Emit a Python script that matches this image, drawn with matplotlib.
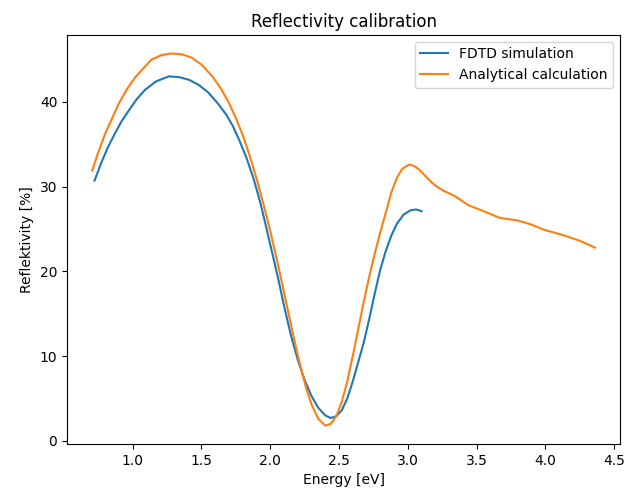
import matplotlib

matplotlib.use("Agg")
import matplotlib.pyplot as plt

# FDTD simulation
fdtd_e = [0.724, 0.77, 0.82, 0.87, 0.92, 0.97, 1.03, 1.09, 1.17, 1.264,
          1.34, 1.41, 1.48, 1.55, 1.62, 1.68, 1.73, 1.78, 1.83, 1.88,
          1.93, 1.98, 2.02, 2.06, 2.10, 2.15, 2.20, 2.25, 2.30, 2.35,
          2.40, 2.44, 2.48, 2.52, 2.56, 2.60, 2.64, 2.68, 2.72, 2.76,
          2.80, 2.84, 2.88, 2.92, 2.97, 3.02, 3.06, 3.10]
fdtd_r = [30.7, 32.7, 34.6, 36.2, 37.7, 38.9, 40.3, 41.4, 42.4, 43.0,
          42.9, 42.6, 42.0, 41.1, 39.8, 38.5, 37.1, 35.3, 33.3, 30.9,
          28.0, 24.6, 21.8, 19.0, 16.0, 12.5, 9.6, 7.2, 5.3, 3.9,
          3.0, 2.7, 2.9, 3.6, 5.0, 7.0, 9.3, 11.6, 14.4, 17.4,
          20.2, 22.4, 24.2, 25.6, 26.7, 27.2, 27.3, 27.1]

# Analytical calculation
ana_e = [0.707, 0.75, 0.80, 0.864, 0.90, 0.96, 1.02, 1.07, 1.14, 1.21,
         1.28, 1.36, 1.43, 1.50, 1.58, 1.64, 1.70, 1.75, 1.80, 1.85,
         1.90, 1.95, 2.00, 2.07, 2.11, 2.15, 2.185, 2.22, 2.26, 2.30,
         2.35, 2.40, 2.44, 2.48, 2.52, 2.56, 2.60, 2.64, 2.68, 2.72,
         2.76, 2.80, 2.84, 2.88, 2.92, 2.96, 3.01, 3.05, 3.09, 3.13,
         3.18, 3.22, 3.26, 3.34, 3.44, 3.55, 3.67, 3.80, 3.90, 3.99,
         4.08, 4.16, 4.25, 4.36]
ana_r = [31.9, 34.0, 36.2, 38.5, 39.8, 41.5, 42.9, 43.8, 45.0, 45.5,
         45.7, 45.6, 45.2, 44.4, 43.0, 41.6, 39.9, 38.1, 36.1, 33.7,
         31.0, 28.0, 24.8, 19.8, 16.8, 13.8, 11.2, 8.8, 6.3, 4.3,
         2.6, 1.8, 2.0, 2.9, 4.6, 7.0, 10.0, 13.2, 16.4, 19.4,
         22.1, 24.6, 26.9, 29.3, 31.0, 32.1, 32.6, 32.4, 31.9, 31.2,
         30.4, 29.9, 29.5, 28.9, 27.8, 27.1, 26.3, 26.0, 25.5, 24.9,
         24.5, 24.1, 23.6, 22.8]

fig, ax = plt.subplots(figsize=(6.27, 4.98), dpi=100)
fig.subplots_adjust(left=0.107, right=0.989, top=0.930, bottom=0.108)
ax.plot(fdtd_e, fdtd_r, label="FDTD simulation", lw=1.5)
ax.plot(ana_e, ana_r, label="Analytical calculation", lw=1.5)
ax.set_title("Reflectivity calibration")
ax.set_xlabel("Energy [eV]")
ax.set_ylabel("Reflektivity [%]")
ax.legend(loc="upper right")
fig.savefig("out.png", dpi=100)
